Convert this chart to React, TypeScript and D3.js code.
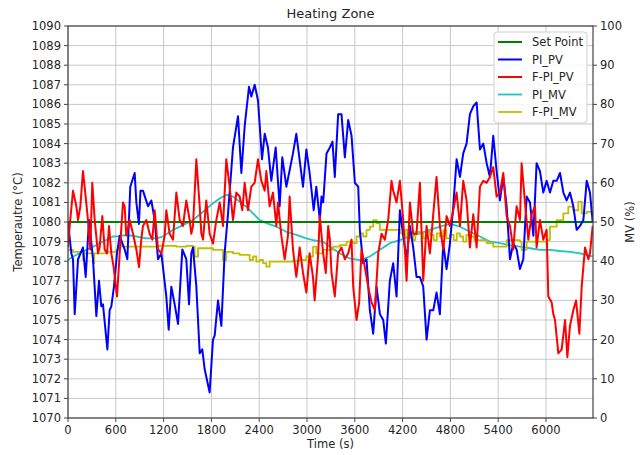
import React from "react";
import * as d3 from "d3";

// time axis (s)
const xTicks = [0, 600, 1200, 1800, 2400, 3000, 3600, 4200, 4800, 5400, 6000];
const leftTicks = d3.range(1070, 1091, 1);
const rightTicks = d3.range(0, 101, 10);
const tMax = 6590;

const setPoint = [
  [0, 1080],
  [6590, 1080],
];

// PI_PV (°C)
const piPvT = [0, 42, 63, 84, 126, 188, 222, 264, 314, 356, 389, 418, 439, 494, 523, 544, 577, 615, 649, 711, 745, 782, 837, 858, 890, 910, 941, 1004, 1046, 1088, 1130, 1172, 1234, 1264, 1297, 1339, 1381, 1435, 1485, 1519, 1548, 1569, 1611, 1653, 1686, 1715, 1778, 1820, 1841, 1883, 1925, 1966, 2008, 2071, 2134, 2176, 2218, 2272, 2301, 2343, 2385, 2435, 2469, 2510, 2552, 2607, 2657, 2690, 2741, 2824, 2866, 2950, 2992, 3033, 3084, 3117, 3161, 3182, 3203, 3245, 3287, 3320, 3349, 3391, 3433, 3475, 3517, 3559, 3601, 3643, 3663, 3705, 3747, 3789, 3831, 3873, 3915, 3957, 3990, 4040, 4082, 4124, 4166, 4208, 4250, 4292, 4333, 4375, 4417, 4459, 4501, 4543, 4585, 4626, 4668, 4710, 4752, 4794, 4836, 4878, 4920, 4961, 5003, 5045, 5087, 5129, 5171, 5213, 5255, 5296, 5338, 5380, 5422, 5464, 5506, 5548, 5589, 5631, 5673, 5715, 5757, 5799, 5841, 5882, 5924, 5966, 6008, 6050, 6092, 6134, 6176, 6218, 6259, 6301, 6343, 6385, 6427, 6469, 6511, 6552, 6586];
const piPv = [1080.0, 1078.4, 1078.1, 1075.3, 1078.1, 1078.7, 1077.2, 1080.1, 1078.1, 1075.2, 1077.0, 1075.7, 1075.8, 1073.5, 1075.5, 1075.7, 1076.7, 1078.4, 1079.3, 1078.6, 1078.1, 1081.8, 1082.5, 1081.0, 1079.9, 1081.6, 1081.6, 1080.8, 1081.1, 1080.1, 1078.1, 1078.4, 1076.2, 1074.5, 1076.7, 1075.8, 1074.8, 1078.6, 1078.1, 1075.8, 1078.4, 1078.7, 1076.7, 1073.3, 1073.5, 1072.5, 1071.3, 1074.0, 1074.2, 1076.0, 1074.7, 1078.4, 1080.4, 1083.8, 1085.4, 1082.5, 1084.9, 1086.9, 1086.4, 1087.0, 1086.2, 1083.2, 1084.5, 1083.8, 1082.1, 1083.8, 1080.8, 1083.3, 1081.8, 1083.5, 1084.5, 1081.8, 1083.7, 1082.5, 1080.6, 1081.8, 1080.1, 1081.3, 1081.0, 1083.5, 1083.8, 1084.1, 1082.3, 1085.5, 1085.5, 1083.3, 1085.2, 1084.4, 1082.0, 1081.8, 1079.6, 1077.9, 1078.1, 1075.5, 1074.3, 1076.7, 1075.3, 1075.0, 1073.8, 1077.0, 1077.9, 1076.2, 1080.6, 1079.3, 1078.1, 1079.8, 1078.7, 1077.2, 1077.2, 1076.7, 1074.0, 1075.5, 1075.5, 1076.4, 1075.3, 1078.9, 1077.6, 1078.9, 1080.8, 1083.2, 1082.3, 1083.5, 1084.0, 1085.5, 1085.9, 1086.1, 1083.7, 1084.0, 1083.0, 1082.3, 1084.4, 1082.6, 1081.1, 1082.3, 1080.8, 1078.1, 1078.9, 1078.6, 1077.6, 1078.1, 1081.3, 1081.0, 1079.3, 1083.0, 1082.6, 1081.5, 1082.1, 1081.5, 1082.1, 1082.1, 1082.5, 1081.5, 1081.1, 1081.5, 1080.8, 1079.6, 1079.8, 1080.1, 1082.1, 1081.5, 1080.0];

// F-PI_PV (°C)
const fPiPvT = [0, 21, 63, 105, 126, 155, 188, 209, 251, 280, 305, 335, 377, 397, 431, 460, 490, 515, 544, 573, 615, 649, 690, 711, 732, 774, 816, 858, 891, 920, 941, 983, 1025, 1059, 1088, 1130, 1172, 1213, 1234, 1276, 1318, 1360, 1402, 1443, 1485, 1527, 1548, 1569, 1611, 1653, 1674, 1695, 1736, 1778, 1820, 1862, 1904, 1946, 1987, 2029, 2071, 2113, 2155, 2188, 2218, 2259, 2301, 2343, 2385, 2427, 2469, 2490, 2531, 2573, 2615, 2636, 2678, 2720, 2761, 2782, 2824, 2866, 2908, 2950, 2992, 3033, 3075, 3096, 3138, 3161, 3203, 3236, 3266, 3287, 3308, 3349, 3391, 3433, 3475, 3517, 3559, 3580, 3622, 3655, 3684, 3726, 3768, 3810, 3852, 3894, 3936, 3977, 4019, 4061, 4082, 4124, 4166, 4208, 4250, 4292, 4333, 4375, 4417, 4459, 4501, 4543, 4585, 4626, 4668, 4710, 4752, 4794, 4836, 4878, 4920, 4961, 5003, 5045, 5087, 5129, 5171, 5213, 5255, 5296, 5338, 5380, 5422, 5464, 5506, 5548, 5589, 5631, 5673, 5694, 5736, 5778, 5820, 5862, 5882, 5924, 5966, 6008, 6029, 6071, 6092, 6113, 6155, 6197, 6239, 6268, 6301, 6343, 6377, 6419, 6448, 6490, 6532, 6552, 6586];
const fPiPv = [1078.7, 1079.8, 1081.6, 1080.8, 1080.1, 1080.8, 1082.6, 1081.8, 1080.1, 1078.6, 1082.0, 1080.1, 1078.4, 1078.7, 1080.3, 1078.6, 1078.4, 1079.8, 1078.4, 1077.7, 1076.2, 1078.4, 1081.0, 1080.8, 1079.3, 1080.1, 1079.4, 1078.6, 1077.7, 1079.1, 1079.8, 1080.1, 1079.4, 1079.1, 1080.6, 1078.6, 1078.4, 1079.3, 1080.6, 1079.4, 1079.1, 1081.5, 1080.1, 1079.8, 1081.1, 1080.1, 1079.4, 1079.8, 1083.2, 1080.8, 1079.4, 1079.1, 1081.1, 1079.4, 1078.9, 1080.1, 1081.0, 1079.8, 1083.2, 1081.8, 1080.1, 1081.5, 1081.3, 1080.6, 1082.0, 1080.6, 1081.8, 1082.0, 1083.2, 1082.1, 1081.6, 1082.6, 1080.8, 1081.5, 1079.8, 1081.0, 1079.3, 1078.1, 1079.3, 1081.3, 1078.6, 1077.2, 1078.7, 1077.4, 1076.4, 1078.4, 1077.2, 1076.0, 1078.2, 1080.3, 1078.4, 1077.4, 1079.8, 1079.1, 1077.4, 1076.2, 1078.4, 1078.7, 1078.1, 1078.4, 1079.1, 1076.7, 1075.0, 1075.9, 1078.6, 1077.7, 1076.7, 1075.9, 1075.5, 1078.4, 1079.4, 1079.1, 1080.1, 1082.1, 1081.6, 1081.0, 1082.1, 1080.1, 1077.0, 1081.0, 1079.4, 1079.4, 1082.0, 1077.0, 1079.8, 1078.4, 1080.4, 1082.3, 1079.8, 1078.6, 1080.3, 1079.8, 1080.6, 1081.5, 1079.8, 1082.1, 1081.1, 1078.7, 1080.4, 1078.7, 1081.8, 1082.1, 1082.0, 1082.3, 1082.8, 1081.3, 1081.5, 1082.5, 1080.3, 1079.8, 1078.6, 1080.8, 1080.1, 1083.0, 1081.0, 1079.1, 1080.4, 1080.8, 1078.7, 1080.1, 1079.1, 1079.6, 1076.2, 1075.9, 1075.3, 1075.0, 1073.3, 1073.5, 1075.0, 1073.1, 1074.7, 1075.5, 1076.0, 1074.3, 1076.7, 1078.7, 1078.1, 1078.4, 1079.8];

// PI_MV (%)
const piMvT = [0, 63, 146, 230, 314, 439, 565, 649, 732, 858, 983, 1109, 1192, 1318, 1443, 1569, 1695, 1820, 1904, 1987, 2071, 2155, 2238, 2322, 2406, 2490, 2615, 2741, 2866, 2992, 3075, 3201, 3287, 3412, 3538, 3663, 3789, 3915, 4040, 4166, 4292, 4417, 4543, 4668, 4794, 4920, 5045, 5171, 5296, 5422, 5548, 5673, 5799, 5924, 6050, 6176, 6301, 6427, 6586];
const piMv = [40.3, 41.2, 42.0, 42.9, 43.7, 45.0, 46.3, 46.4, 46.7, 46.3, 45.8, 45.8, 46.3, 48.0, 49.2, 50.5, 52.6, 54.8, 56.0, 56.9, 56.5, 55.2, 53.9, 52.2, 50.5, 49.7, 48.8, 47.5, 46.7, 45.8, 45.4, 45.0, 43.7, 42.0, 40.7, 40.3, 41.2, 42.9, 44.6, 45.4, 46.3, 47.1, 48.0, 48.8, 49.5, 48.8, 47.5, 46.3, 45.0, 44.6, 44.1, 43.7, 43.3, 42.9, 42.9, 42.6, 42.4, 42.0, 41.2];

// F-PI_MV (%)
const fPiMvT = [0, 63, 146, 170, 188, 200, 293, 314, 330, 481, 607, 649, 670, 732, 858, 983, 1109, 1234, 1360, 1485, 1569, 1590, 1632, 1736, 1820, 1904, 1946, 1987, 2071, 2155, 2238, 2280, 2322, 2364, 2406, 2448, 2490, 2531, 2615, 2741, 2824, 2908, 2992, 3075, 3117, 3201, 3245, 3328, 3412, 3496, 3580, 3622, 3663, 3705, 3747, 3789, 3831, 3873, 3915, 3998, 4082, 4166, 4208, 4230, 4260, 4292, 4330, 4360, 4417, 4460, 4500, 4543, 4590, 4630, 4668, 4710, 4750, 4794, 4840, 4880, 4920, 4960, 5000, 5045, 5100, 5171, 5255, 5338, 5422, 5506, 5589, 5673, 5694, 5757, 5924, 6008, 6050, 6134, 6218, 6280, 6343, 6406, 6448, 6511, 6586];
const fPiMv = [42.9, 42.4, 42.4, 42.4, 40.3, 42.0, 42.0, 39.5, 42.0, 42.4, 42.9, 45.4, 43.7, 43.7, 43.7, 43.7, 43.9, 43.9, 43.7, 43.9, 43.7, 41.2, 43.3, 43.3, 42.9, 42.9, 40.3, 42.4, 42.0, 41.6, 41.6, 40.3, 41.2, 39.9, 40.3, 39.5, 38.6, 39.9, 39.9, 39.9, 40.1, 40.3, 41.2, 43.7, 42.0, 42.9, 42.9, 43.7, 44.1, 45.0, 44.6, 46.3, 47.1, 46.3, 48.0, 48.8, 50.5, 49.7, 48.0, 48.0, 48.0, 47.1, 46.3, 48.0, 45.8, 47.1, 45.4, 47.5, 47.1, 45.8, 47.5, 46.7, 45.4, 47.1, 46.3, 47.9, 45.8, 46.7, 45.4, 47.1, 46.3, 45.0, 46.7, 46.3, 45.4, 45.4, 44.6, 43.7, 43.7, 45.4, 45.4, 45.0, 42.9, 45.0, 45.0, 45.4, 48.8, 50.5, 52.2, 53.9, 53.0, 55.2, 52.2, 52.6, 52.6];

const W = 641;
const H = 455;
const L = 68;
const R = 593;
const T = 26;
const B = 418;
const font = "DejaVu Sans, sans-serif";
const ink = "#262626";

const zip = (a: number[], b: number[]) => a.map((t, i) => [t, b[i]] as [number, number]);

export default function App() {
  const x = d3.scaleLinear().domain([0, tMax]).range([L, R]);
  const yL = d3.scaleLinear().domain([1070, 1090]).range([B, T]);
  const yR = d3.scaleLinear().domain([0, 100]).range([B, T]);

  const lineL = d3.line<[number, number]>().x(d => x(d[0])).y(d => yL(d[1]));
  const lineR = d3.line<[number, number]>().x(d => x(d[0])).y(d => yR(d[1]));
  const stepR = d3
    .line<[number, number]>()
    .x(d => x(d[0]))
    .y(d => yR(d[1]))
    .curve(d3.curveStepAfter);

  const series = [
    { name: "Set Point", color: "#008000", w: 2, d: lineL(setPoint as [number, number][]) },
    { name: "PI_PV", color: "#0000ff", w: 2, d: lineL(zip(piPvT, piPv)) },
    { name: "F-PI_PV", color: "#ff0000", w: 2, d: lineL(zip(fPiPvT, fPiPv)) },
    { name: "PI_MV", color: "#20c4c4", w: 1.8, d: lineR(zip(piMvT, piMv)) },
    { name: "F-PI_MV", color: "#bfbf00", w: 1.8, d: stepR(zip(fPiMvT, fPiMv)) },
  ];
  // MV lines sit under the PV lines
  const drawOrder = [series[3], series[4], series[0], series[1], series[2]];

  return (
    <svg
      width={W}
      height={H}
      style={{ position: "absolute", left: 0, top: 0, background: "#fff" }}
      fontFamily={font}
    >
      <defs>
        <clipPath id="plot">
          <rect x={L} y={T} width={R - L} height={B - T} />
        </clipPath>
      </defs>
      {/* grid */}
      {xTicks.map(t => (
        <line key={"gx" + t} x1={x(t)} x2={x(t)} y1={T} y2={B} stroke="#c8c8c8" strokeWidth={1} />
      ))}
      {leftTicks.map(t => (
        <line key={"gy" + t} x1={L} x2={R} y1={yL(t)} y2={yL(t)} stroke="#c8c8c8" strokeWidth={1} />
      ))}

      <g clipPath="url(#plot)">
        {drawOrder.map(s => (
          <path key={s.name} d={s.d || ""} fill="none" stroke={s.color} strokeWidth={s.w} strokeLinejoin="round" />
        ))}
      </g>

      {/* frame */}
      <rect x={L} y={T} width={R - L} height={B - T} fill="none" stroke="#444" strokeWidth={1.2} />

      {/* x ticks */}
      {xTicks.map(t => (
        <g key={"xt" + t}>
          <line x1={x(t)} x2={x(t)} y1={B} y2={B + 4} stroke="#444" />
          <text x={x(t)} y={B + 16} textAnchor="middle" fontSize={11.5} fill={ink}>
            {t}
          </text>
        </g>
      ))}
      {/* left ticks */}
      {leftTicks.map(t => (
        <g key={"lt" + t}>
          <line x1={L - 4} x2={L} y1={yL(t)} y2={yL(t)} stroke="#444" />
          <text x={L - 7} y={yL(t) + 4} textAnchor="end" fontSize={11.5} fill={ink}>
            {t}
          </text>
        </g>
      ))}
      {/* right ticks */}
      {rightTicks.map(t => (
        <g key={"rt" + t}>
          <line x1={R} x2={R + 4} y1={yR(t)} y2={yR(t)} stroke="#444" />
          <text x={R + 7} y={yR(t) + 4} textAnchor="start" fontSize={11.5} fill={ink}>
            {t}
          </text>
        </g>
      ))}

      <text x={(L + R) / 2} y={18} textAnchor="middle" fontSize={13} fill={ink}>
        Heating Zone
      </text>
      <text x={(L + R) / 2} y={448} textAnchor="middle" fontSize={11.5} fill={ink}>
        Time (s)
      </text>
      <text
        transform={`translate(22,${(T + B) / 2}) rotate(-90)`}
        textAnchor="middle"
        fontSize={11.5}
        fill={ink}
      >
        Temperautre (°C)
      </text>
      <text
        transform={`translate(634,${(T + B) / 2}) rotate(-90)`}
        textAnchor="middle"
        fontSize={11.5}
        fill={ink}
      >
        MV (%)
      </text>

      {/* legend */}
      <g transform="translate(494,32)">
        <rect x={0} y={0} width={93} height={91} rx={3} fill="#fff" fillOpacity={0.85} stroke="#d0d0d0" />
        {series.map((s, i) => (
          <g key={"lg" + s.name} transform={`translate(0,${10 + i * 17.5})`}>
            <line x1={4} x2={28} y1={0} y2={0} stroke={s.color} strokeWidth={s.w} />
            <text x={38} y={4} fontSize={11.5} fill={ink}>
              {s.name}
            </text>
          </g>
        ))}
      </g>
    </svg>
  );
}
